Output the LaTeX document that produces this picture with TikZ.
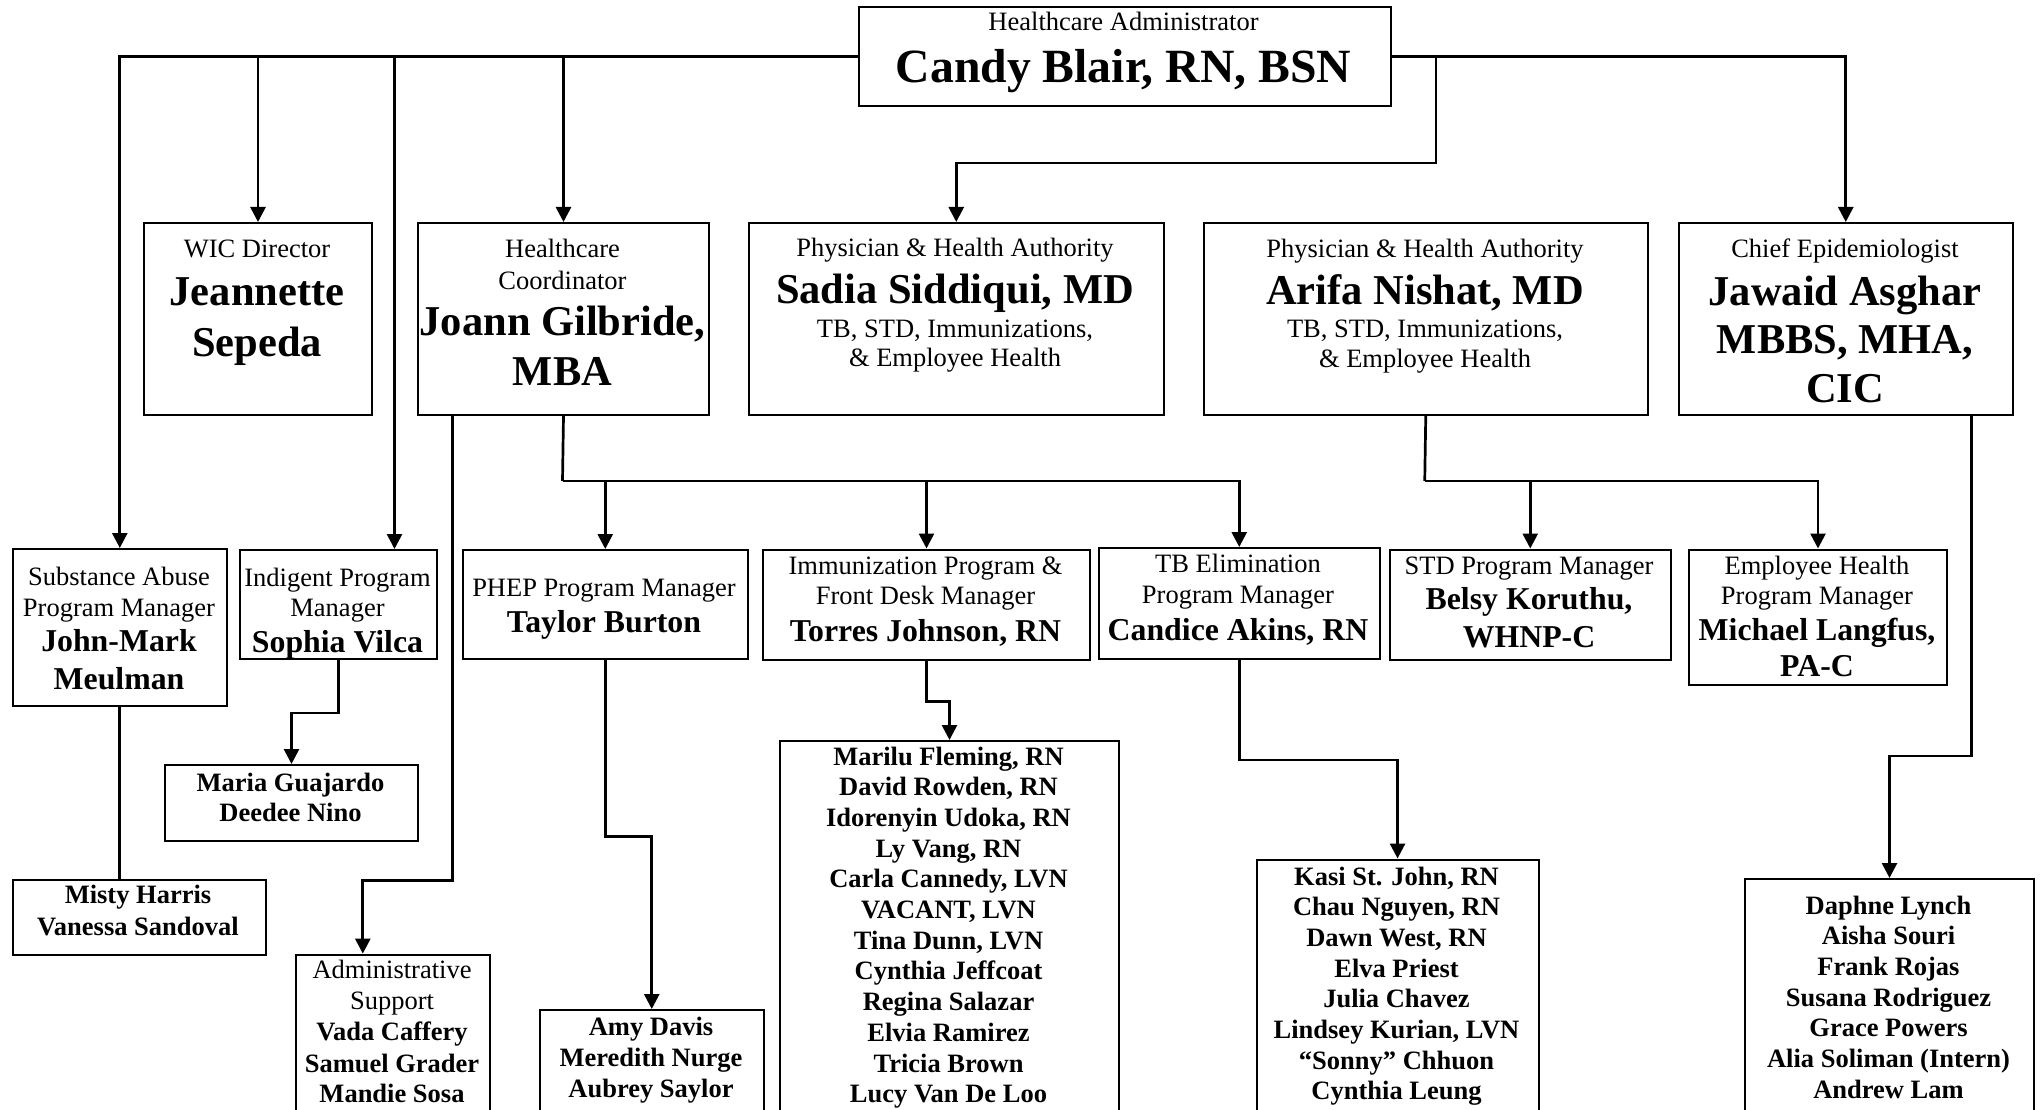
\documentclass[tikz,border=0pt]{standalone}
\usepackage{fontspec}
\setmainfont{Liberation Serif}
\usetikzlibrary{arrows.meta}
\newcommand\txl[5]{\node[anchor=base,inner sep=0pt,#4] (#1) at (#2,#3) {#5};}
\begin{document}
\begin{tikzpicture}[x=1pt,y=-1pt,
  box/.style={draw,line width=2pt,inner sep=0pt,anchor=north west},
  conn/.style={line width=2.7pt},
  arr/.style={conn,-{Triangle[width=15pt,length=15pt]}},
  fsm/.style={font=\fontsize{26.5}{30}\selectfont},
  fsmb/.style={font=\fontsize{26.5}{30}\selectfont\bfseries},
  fmid/.style={font=\fontsize{31.8}{36}\selectfont\bfseries},
  fbig/.style={font=\fontsize{42.5}{48}\selectfont\bfseries},
  fhuge/.style={font=\fontsize{47.7}{54}\selectfont\bfseries}]
\useasboundingbox (0,0) rectangle (2040,1110);
\fill[white] (0,0) rectangle (2040,1110);
\clip (0,0) rectangle (2040,1110);

% ---------- boxes ----------
\node[box,minimum width=532pt,minimum height=99pt] (candy) at (857.5,6) {};
\node[box,minimum width=228pt,minimum height=192pt] (wic) at (143,222) {};
\node[box,minimum width=291pt,minimum height=192pt] (hc) at (417,222) {};
\node[box,minimum width=415.5pt,minimum height=192pt] (sadia) at (747.5,222) {};
\node[box,minimum width=443.5pt,minimum height=192pt] (arifa) at (1203,222) {};
\node[box,minimum width=333.5pt,minimum height=192pt] (jawaid) at (1678,222) {};

\node[box,minimum width=214.4pt,minimum height=157pt] (sa) at (11.6,548) {};
\node[box,minimum width=197pt,minimum height=109pt] (ind) at (239,549) {};
\node[box,minimum width=285.5pt,minimum height=109pt] (phep) at (461.5,549) {};
\node[box,minimum width=327pt,minimum height=110.5pt] (immun) at (762,548.5) {};
\node[box,minimum width=280.5pt,minimum height=110.6pt] (tb) at (1098,547) {};
\node[box,minimum width=280.5pt,minimum height=110pt] (std) at (1389,548.5) {};
\node[box,minimum width=258.8pt,minimum height=135.5pt] (eh) at (1687.6,548.5) {};

\node[box,minimum width=253pt,minimum height=76pt] (maria) at (164,764) {};
\node[box,minimum width=253.4pt,minimum height=75pt] (misty) at (11.6,878.5) {};
\node[box,minimum width=193.6pt,minimum height=190pt] (admin) at (295,953.6) {};
\node[box,minimum width=223.5pt,minimum height=140pt] (amy) at (539,1009) {};
\node[box,minimum width=339pt,minimum height=400pt] (marilu) at (779,740) {};
\node[box,minimum width=281.9pt,minimum height=290pt] (kasi) at (1255.6,858.5) {};
\node[box,minimum width=289pt,minimum height=270pt] (daphne) at (1744,878) {};

% ---------- connectors ----------
\draw[arr] (candy.west) -| (sa.north);
\draw[arr] (candy.west) -| (wic.north);
\draw[arr] (candy.west) -| ([xshift=56pt]ind.north);
\draw[arr] (candy.west) -| (hc.north);
\coordinate (k1) at (1436,163);
\draw[arr] (candy.east) -| (k1) -| (sadia.north);
\draw[arr] (candy.east) -| (jawaid.north);

\coordinate (hcbus) at (562.5,481);
\draw[conn] (hc.south) -- (hcbus);
\draw[arr] (hcbus) -| (phep.north);
\draw[arr] (hcbus) -| (immun.north);
\draw[arr] (hcbus) -| (tb.north);
\draw[arr] ([xshift=-111pt]hc.south) -- ++(0,464.5) -| ([xshift=-30pt]admin.north);

\draw[arr] (ind.south) -- ++(0,53) -| (maria.north);
\draw[conn] (sa.south) -- (sa.south |- misty.north);
\draw[arr] (phep.south) -- ++(0,176.5) -| (amy.north);
\draw[arr] (immun.south) -- ++(0,40.5) -| (marilu.north);
\draw[arr] (tb.south) -- ++(0,100.4) -| (kasi.north);

\coordinate (arbus) at (1424.75,481);
\draw[conn] (arifa.south) -- (arbus);
\draw[arr] (arbus) -| (std.north);
\draw[arr] (arbus) -| (eh.north);
\draw[arr] ([xshift=-41.8pt]jawaid.south east) -- ++(0,340) -| (daphne.north);

% ---------- texts ----------
\txl{candy1}{1123.5}{31}{fsm}{Healthcare Administrator}
\txl{candy2}{1123.5}{83}{fhuge}{Candy Blair, RN, BSN}

\txl{wic1}{257}{258}{fsm}{WIC Director}
\txl{wic2}{257}{305}{fbig}{Jeannette}
\txl{wic3}{257}{356}{fbig}{Sepeda}

\txl{hc1}{562.5}{258}{fsm}{Healthcare}
\txl{hc2}{562.5}{289}{fsm}{Coordinator}
\txl{hc3}{562.5}{335}{fbig}{Joann Gilbride,}
\txl{hc4}{562.5}{385}{fbig}{MBA}

\txl{sad1}{955}{257}{fsm}{Physician \& Health Authority}
\txl{sad2}{955}{303}{fbig}{Sadia Siddiqui, MD}
\txl{sad3}{955}{337}{fsm}{TB, STD, Immunizations,}
\txl{sad4}{955}{366}{fsm}{\& Employee Health}

\txl{ari1}{1425}{258}{fsm}{Physician \& Health Authority}
\txl{ari2}{1425}{304}{fbig}{Arifa Nishat, MD}
\txl{ari3}{1425}{337}{fsm}{TB, STD, Immunizations,}
\txl{ari4}{1425}{367}{fsm}{\& Employee Health}

\txl{jaw1}{1845}{258}{fsm}{Chief Epidemiologist}
\txl{jaw2}{1845}{305}{fbig}{Jawaid Asghar}
\txl{jaw3}{1845}{353}{fbig}{MBBS, MHA,}
\txl{jaw4}{1845}{402}{fbig}{CIC}

\txl{sa1}{119}{585}{fsm}{Substance Abuse}
\txl{sa2}{119}{616}{fsm}{Program Manager}
\txl{sa3}{119}{651}{fmid}{John-Mark}
\txl{sa4}{119}{689}{fmid}{Meulman}

\txl{ind1}{337.5}{586}{fsm}{Indigent Program}
\txl{ind2}{337.5}{616}{fsm}{Manager}
\txl{ind3}{337.5}{652}{fmid}{Sophia Vilca}

\txl{phep1}{604}{596}{fsm}{PHEP Program Manager}
\txl{phep2}{604}{632}{fmid}{Taylor Burton}

\txl{imm1}{925.5}{574}{fsm}{Immunization Program \&}
\txl{imm2}{925.5}{604}{fsm}{Front Desk Manager}
\txl{imm3}{925.5}{641}{fmid}{Torres Johnson, RN}

\txl{tb1}{1238}{572.5}{fsm}{TB Elimination}
\txl{tb2}{1238}{603}{fsm}{Program Manager}
\txl{tb3}{1238}{640}{fmid}{Candice Akins, RN}

\txl{std1}{1529}{574}{fsm}{STD Program Manager}
\txl{std2}{1529}{609.5}{fmid}{Belsy Koruthu,}
\txl{std3}{1529}{647.5}{fmid}{WHNP-C}

\txl{eh1}{1817}{574}{fsm}{Employee Health}
\txl{eh2}{1817}{604}{fsm}{Program Manager}
\txl{eh3}{1817}{640}{fmid}{Michael Langfus,}
\txl{eh4}{1817}{676}{fmid}{PA-C}

\txl{mar1}{290.5}{791}{fsmb}{Maria Guajardo}
\txl{mar2}{290.5}{821.5}{fsmb}{Deedee Nino}

\txl{mis1}{138}{903.7}{fsmb}{Misty Harris}
\txl{mis2}{138}{935}{fsmb}{Vanessa Sandoval}

\txl{adm1}{392}{978.4}{fsm}{Administrative}
\txl{adm2}{392}{1009}{fsm}{Support}
\txl{adm3}{392}{1040.5}{fsmb}{Vada Caffery}
\txl{adm4}{392}{1072}{fsmb}{Samuel Grader}
\txl{adm5}{392}{1102.7}{fsmb}{Mandie Sosa}

\txl{amy1}{651}{1035}{fsmb}{Amy Davis}
\txl{amy2}{651}{1066.4}{fsmb}{Meredith Nurge}
\txl{amy3}{651}{1097}{fsmb}{Aubrey Saylor}

\foreach \t [count=\i from 0] in {{Marilu Fleming, RN},{David Rowden, RN},{Idorenyin Udoka, RN},{Ly Vang, RN},{Carla Cannedy, LVN},{VACANT, LVN},{Tina Dunn, LVN},{Cynthia Jeffcoat},{Regina Salazar},{Elvia Ramirez},{Tricia Brown},{Lucy Van De Loo}}
  \node[anchor=base,inner sep=0pt,fsmb] (ml\i) at (948.5,765+30.7*\i) {\t};

\foreach \t [count=\i from 0] in {{Kasi St. John, RN},{Chau Nguyen, RN},{Dawn West, RN},{Elva Priest},{Julia Chavez},{Lindsey Kurian, LVN},{“Sonny” Chhuon},{Cynthia Leung}}
  \node[anchor=base,inner sep=0pt,fsmb] (kl\i) at (1396.5,885+30.7*\i) {\t};

\foreach \t [count=\i from 0] in {{Daphne Lynch},{Aisha Souri},{Frank Rojas},{Susana Rodriguez},{Grace Powers},{Alia Soliman (Intern)},{Andrew Lam}}
  \node[anchor=base,inner sep=0pt,fsmb] (dl\i) at (1888.5,914+30.7*\i) {\t};
\end{tikzpicture}
\end{document}
